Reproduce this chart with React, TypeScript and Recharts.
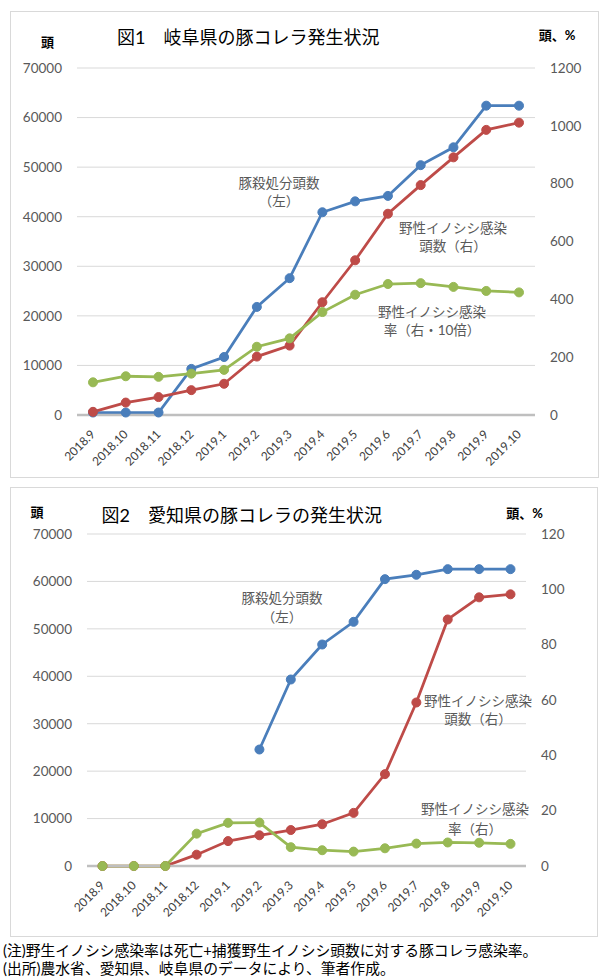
import React from 'react';
import { LineChart, Line, XAxis, YAxis, CartesianGrid } from 'recharts';

const months = ['2018.9', '2018.10', '2018.11', '2018.12', '2019.1', '2019.2', '2019.3', '2019.4', '2019.5', '2019.6', '2019.7', '2019.8', '2019.9', '2019.10'];

// Fig.1 Gifu
const gifuCulled = [500, 500, 500, 9300, 11700, 21800, 27600, 40900, 43100, 44200, 50400, 54000, 62400, 62400];
const gifuBoarCases = [11, 43, 62, 86, 108, 202, 240, 390, 535, 696, 795, 891, 986, 1011];
const gifuBoarRate10x = [113, 134, 132, 143, 156, 236, 265, 356, 416, 453, 456, 443, 429, 424];

// Fig.2 Aichi
const aichiCulled = [null, null, null, null, null, 24560, 39320, 46700, 51480, 60480, 61400, 62590, 62590, 62590];
const aichiBoarCases = [0, 0, 0, 4.1, 9.0, 11.1, 13.0, 15.1, 19.2, 33.2, 59.1, 89.1, 97.1, 98.2];
const aichiBoarRate = [0, 0, 0, 11.7, 15.6, 15.7, 6.8, 5.7, 5.2, 6.4, 8.1, 8.5, 8.4, 8.0];

const leftTicks = [0, 10000, 20000, 30000, 40000, 50000, 60000, 70000];
const gifuRightTicks = [0, 200, 400, 600, 800, 1000, 1200];
const aichiRightTicks = [0, 20, 40, 60, 80, 100, 120];

const gifuData = months.map((m, i) => ({ m, culled: gifuCulled[i], cases: gifuBoarCases[i], rate: gifuBoarRate10x[i] }));
const aichiData = months.map((m, i) => ({ m, culled: aichiCulled[i], cases: aichiBoarCases[i], rate: aichiBoarRate[i] }));

const BLUE = '#4a7ebb';
const RED = '#be4b48';
const GREEN = '#98b954';
const NUM_FONT = 'Lato, "Liberation Sans", sans-serif';
// Lato first keeps line boxes compact; CJK glyphs fall back to Noto Sans CJK JP
const JP_FONT = 'Lato, "Noto Sans CJK JP", sans-serif';

const XTick = (props: any) => {
  const { x, y, payload } = props;
  return (
    <g transform={`translate(${x + 3},${y + 20})`}>
      <text x={0} y={0} textAnchor="end" transform="rotate(-45)" fill="#404040" fontSize={12} fontFamily={NUM_FONT}>
        {payload.value}
      </text>
    </g>
  );
};

const tickStyle = { fill: '#595959', fontSize: 13.5, fontFamily: NUM_FONT };

function Chart({ data, width, height, margin, rightMax, rightTicks, pad }: any) {
  return (
    <LineChart width={width} height={height} data={data} margin={margin}>
      <CartesianGrid yAxisId="left" vertical={false} stroke="#d9d9d9" strokeWidth={1} />
      <XAxis dataKey="m" height={55} tickLine={false} tickSize={0} tickMargin={0} interval={0}
        padding={{ left: pad, right: pad }}
        axisLine={{ stroke: '#bfbfbf', strokeWidth: 2.5 }} tick={<XTick />} />
      <YAxis yAxisId="left" width={50} domain={[0, 70000]} ticks={leftTicks} axisLine={false} tickLine={false}
        tickSize={0} tickMargin={15} tick={tickStyle} interval={0} />
      <YAxis yAxisId="right" orientation="right" width={50} domain={[0, rightMax]} ticks={rightTicks} axisLine={false}
        tickLine={false} tickSize={0} tickMargin={15} tick={{ ...tickStyle, textAnchor: 'start' }} interval={0} />
      <Line yAxisId="left" dataKey="culled" stroke={BLUE} strokeWidth={2.75} isAnimationActive={false}
        dot={{ r: 4.5, fill: BLUE, stroke: BLUE, strokeWidth: 1 }} connectNulls={false} />
      <Line yAxisId="right" dataKey="cases" stroke={RED} strokeWidth={2.75} isAnimationActive={false}
        dot={{ r: 4.5, fill: RED, stroke: RED, strokeWidth: 1 }} />
      <Line yAxisId="right" dataKey="rate" stroke={GREEN} strokeWidth={2.75} isAnimationActive={false}
        dot={{ r: 4.5, fill: GREEN, stroke: GREEN, strokeWidth: 1 }} />
    </LineChart>
  );
}

const Txt = ({ x, y, children, size = 13.5, color = '#595959', weight = 400, center = true }: any) => (
  <div style={{
    position: 'absolute', left: x, top: y, transform: center ? 'translate(-50%, -50%)' : 'translateY(-50%)',
    fontFamily: JP_FONT, fontSize: size, color, fontWeight: weight, whiteSpace: 'nowrap', lineHeight: 1,
  }}>{children}</div>
);

// Two-line annotation: x,y = centre of the block
const Note2 = ({ x, y, lh = 18, children }: any) => (
  <div style={{
    position: 'absolute', left: x, top: y, transform: 'translate(-50%, -50%)', textAlign: 'center',
    fontFamily: JP_FONT, fontSize: 13.5, color: '#595959', whiteSpace: 'nowrap', lineHeight: `${lh}px`,
  }}>{children}</div>
);

export default function App() {
  return (
    <div style={{ position: 'absolute', left: 0, top: 0, width: 600, height: 980, background: '#fff', overflow: 'hidden' }}>
      {/* Figure 1 frame */}
      <div style={{ position: 'absolute', left: 10, top: 11, width: 587, height: 465, border: '1px solid #d9d9d9' }} />
      <div style={{ position: 'absolute', left: 11, top: 12 }}>
        <Chart data={gifuData} width={587} height={465} margin={{ top: 56, right: 13, left: 16, bottom: 7 }}
          rightMax={1200} rightTicks={gifuRightTicks} pad={16} />
      </div>
      <Txt x={117} y={37} size={18} color="#000" center={false}>図1　岐阜県の豚コレラ発生状況</Txt>
      <Txt x={47.5} y={42} size={13} color="#000" weight={700}>頭</Txt>
      <Txt x={557} y={35} size={13} color="#000" weight={700}>頭、%</Txt>
      <Note2 x={279} y={192}>豚殺処分頭数<br />（左）</Note2>
      <Note2 x={453} y={237}>野性イノシシ感染<br />頭数（右）</Note2>
      <Note2 x={432} y={321}>野性イノシシ感染<br />率（右・10倍）</Note2>

      {/* Figure 2 frame */}
      <div style={{ position: 'absolute', left: 10, top: 487, width: 586, height: 448, border: '1px solid #d9d9d9' }} />
      <div style={{ position: 'absolute', left: 11, top: 488 }}>
        <Chart data={aichiData} width={586} height={448} margin={{ top: 46, right: 21, left: 26, bottom: 15 }}
          rightMax={120} rightTicks={aichiRightTicks} pad={15.5} />
      </div>
      <Txt x={101.5} y={515} size={18} color="#000" center={false}>図2　愛知県の豚コレラの発生状況</Txt>
      <Txt x={37} y={511.5} size={13} color="#000" weight={700}>頭</Txt>
      <Txt x={524.5} y={513} size={13} color="#000" weight={700}>頭、%</Txt>
      <Note2 x={282} y={607.5} lh={19}>豚殺処分頭数<br />（左）</Note2>
      <Note2 x={478} y={710}>野性イノシシ感染<br />頭数（右）</Note2>
      <Note2 x={475} y={819} lh={20}>野性イノシシ感染<br />率（右）</Note2>

      {/* Notes */}
      <div style={{ position: 'absolute', left: 3, top: 959, transform: 'translateY(-50%)',
        fontFamily: JP_FONT, fontSize: 14.8, color: '#000', whiteSpace: 'nowrap', lineHeight: '18px' }}>
        (注)野生イノシシ感染率は死亡+捕獲野生イノシシ頭数に対する豚コレラ感染率。<br />
        (出所)農水省、愛知県、岐阜県のデータにより、筆者作成。
      </div>
    </div>
  );
}
